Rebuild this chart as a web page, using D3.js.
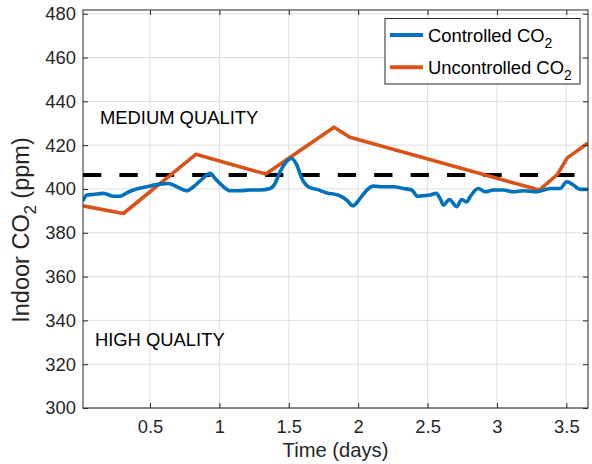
<!DOCTYPE html>
<html><head><meta charset="utf-8">
<script src="https://cdn.jsdelivr.net/npm/d3@7"></script>
<style>
body{margin:0;background:#fff}
svg{display:block}
text{font-family:"Liberation Sans",Arial,Helvetica,sans-serif}
</style>
</head><body>
<svg id="chart" width="592" height="464"></svg>
<script>
// ---- data ----
const controlledT = [0.017,0.045,0.092,0.164,0.236,0.285,0.333,0.380,0.477,0.573,0.633,0.693,0.765,0.813,0.873,0.933,0.969,1.029,1.077,1.149,1.221,1.293,1.365,1.401,1.437,1.473,1.522,1.558,1.594,1.641,1.702,1.774,1.857,1.918,1.961,2.014,2.062,2.110,2.182,2.254,2.326,2.386,2.427,2.470,2.518,2.561,2.590,2.614,2.657,2.710,2.746,2.782,2.806,2.866,2.914,2.974,3.046,3.118,3.190,3.287,3.383,3.455,3.503,3.550,3.599,3.656];
const controlledCO2 = [394.6,397.2,397.5,398.0,396.7,396.7,398.2,399.5,401.0,402.2,402.5,401.0,399.2,401.0,404.4,407.1,404.8,401.0,399.2,399.2,399.5,399.5,400.2,402.5,407.8,411.7,413.9,410.9,404.8,401.0,399.8,398.2,397.2,394.9,392.3,395.7,399.5,401.3,401.0,401.0,400.2,399.5,396.7,396.9,397.2,398.0,395.7,392.6,395.2,391.9,395.2,394.1,396.4,400.2,398.7,399.5,399.5,398.7,399.2,398.7,400.2,400.2,403.3,401.8,399.8,399.9];
const uncontrolledT = [0.017,0.308,0.830,1.334,1.826,1.940,3.305,3.435,3.507,3.656];
const uncontrolledCO2 = [392.3,388.8,415.8,406.8,428.2,423.6,399.5,406.6,414.2,421.0];
const thresholdCO2 = 406.4;
const xTicks = [0.5,1,1.5,2,2.5,3,3.5];
const xTickLabels = ["0.5","1","1.5","2","2.5","3","3.5"];
const yTicks = [300,320,340,360,380,400,420,440,460,480];
const yTickLabels = ["300","320","340","360","380","400","420","440","460","480"];
const seriesNames = ["Controlled CO", "Uncontrolled CO"];
const regionLabels = ["MEDIUM QUALITY", "HIGH QUALITY"];
const regionLevels = [[0.139, 429.7], [0.103, 328.3]];

// ---- layout ----
const L = 83, R = 588, T = 10, B = 408;
const svg = d3.select("#chart");
const x = d3.scaleLinear().domain([0.017, 3.656]).range([L, R]);
const y = d3.scaleLinear().domain([300, 481.7]).range([B, T]);
const axisColor = "#262626";
const fs = 18.4;

// grid
const grid = svg.append("g");
grid.selectAll("line.gx").data(xTicks).join("line")
  .attr("x1", d => x(d)).attr("x2", d => x(d)).attr("y1", T).attr("y2", B)
  .attr("stroke", "#dfdfdf").attr("stroke-width", 1);
grid.selectAll("line.gy").data(yTicks).join("line")
  .attr("y1", d => y(d)).attr("y2", d => y(d)).attr("x1", L).attr("x2", R)
  .attr("stroke", "#dfdfdf").attr("stroke-width", 1);

// clip
svg.append("clipPath").attr("id", "clip").append("rect")
  .attr("x", L).attr("y", T).attr("width", R - L).attr("height", B - T);
const plot = svg.append("g").attr("clip-path", "url(#clip)");

// threshold dashed line
plot.append("line")
  .attr("x1", x(0.017)).attr("x2", x(3.656))
  .attr("y1", y(thresholdCO2)).attr("y2", y(thresholdCO2))
  .attr("stroke", "#000").attr("stroke-width", 4)
  .attr("stroke-dasharray", "18.3,18.1");

const line = d3.line().x(d => x(d[0])).y(d => y(d[1]));
plot.append("path")
  .datum(uncontrolledT.map((t, i) => [t, uncontrolledCO2[i]]))
  .attr("d", line).attr("fill", "none").attr("stroke", "#D95319")
  .attr("stroke-width", 3.6).attr("stroke-linejoin", "round");
plot.append("path")
  .datum(controlledT.map((t, i) => [t, controlledCO2[i]]))
  .attr("d", d3.line().curve(d3.curveMonotoneX).x(d => x(d[0])).y(d => y(d[1])))
  .attr("fill", "none").attr("stroke", "#0072BD")
  .attr("stroke-width", 3.6).attr("stroke-linejoin", "round");

// axes
const xAxis = svg.append("g").attr("transform", `translate(0,${B})`)
  .call(d3.axisBottom(x).tickValues(xTicks).tickFormat((d, i) => xTickLabels[i]).tickSize(-5).tickPadding(11.5));
const xAxisTop = svg.append("g").attr("transform", `translate(0,${T})`)
  .call(d3.axisTop(x).tickValues(xTicks).tickFormat("").tickSize(-5));
const yAxis = svg.append("g").attr("transform", `translate(${L},0)`)
  .call(d3.axisLeft(y).tickValues(yTicks).tickFormat((d, i) => yTickLabels[i]).tickSize(-5).tickPadding(7));
const yAxisRight = svg.append("g").attr("transform", `translate(${R},0)`)
  .call(d3.axisRight(y).tickValues(yTicks).tickFormat("").tickSize(-5));
[xAxis, xAxisTop, yAxis, yAxisRight].forEach(g => {
  g.select(".domain").remove();
  g.selectAll(".tick line").attr("stroke", axisColor);
  g.selectAll("text").attr("fill", axisColor).style("font-size", fs + "px")
    .style("font-family", '"Liberation Sans",Arial,Helvetica,sans-serif');
});
svg.append("rect").attr("x", L).attr("y", T).attr("width", R - L).attr("height", B - T)
  .attr("fill", "none").attr("stroke", axisColor).attr("stroke-width", 1);

// region labels
svg.selectAll("text.region").data(regionLabels).join("text")
  .attr("class", "region")
  .attr("x", (d, i) => x(regionLevels[i][0])).attr("y", (d, i) => y(regionLevels[i][1]))
  .attr("fill", "#000").style("font-size", fs + "px").text(d => d);

// axis labels
svg.append("text").attr("x", (L + R) / 2).attr("y", 457).attr("text-anchor", "middle")
  .attr("fill", axisColor).style("font-size", "20.2px").text("Time (days)");
const yl = svg.append("text").attr("transform", "translate(29,230) rotate(-90)")
  .attr("text-anchor", "middle").attr("fill", axisColor).style("font-size", "23.5px");
yl.append("tspan").text("Indoor CO");
yl.append("tspan").attr("dy", 6.5).style("font-size", "16.5px").text("2");
yl.append("tspan").attr("dy", -6.5).text(" (ppm)");

// legend
const lg = svg.append("g");
lg.append("rect").attr("x", 385).attr("y", 18.5).attr("width", 195).attr("height", 65.5)
  .attr("fill", "#fff").attr("stroke", axisColor).attr("stroke-width", 1);
const legColors = ["#0072BD", "#D95319"];
seriesNames.forEach((name, i) => {
  const cy = 35 + i * 32.3;
  lg.append("line").attr("x1", 390).attr("x2", 423).attr("y1", cy).attr("y2", cy)
    .attr("stroke", legColors[i]).attr("stroke-width", 4);
  const t = lg.append("text").attr("x", 428).attr("y", cy + 6.5).attr("fill", "#000")
    .style("font-size", fs + "px");
  t.append("tspan").text(name);
  t.append("tspan").attr("dy", 6.5).style("font-size", "14px").text("2");
});
</script>
</body></html>
